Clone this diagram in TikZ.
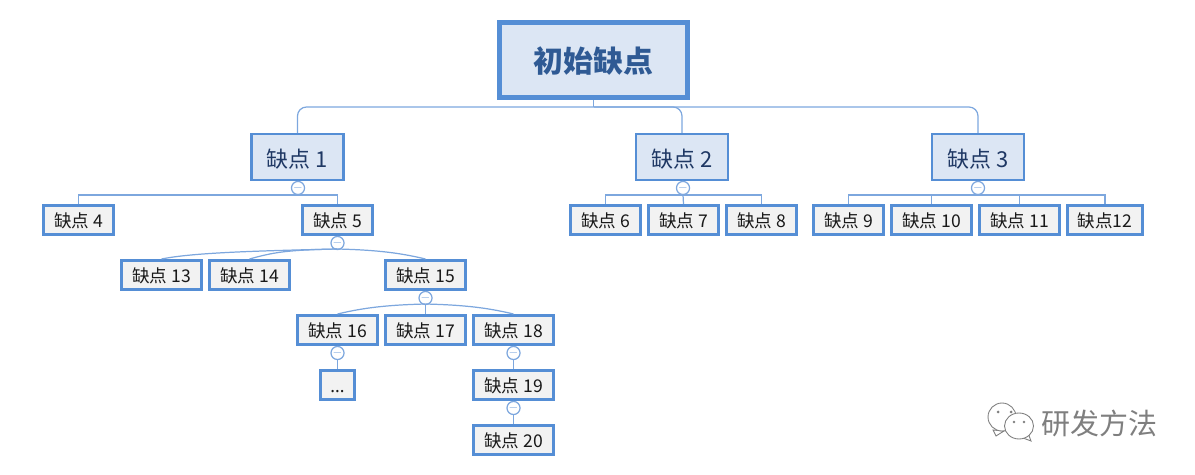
\documentclass[tikz,border=0pt]{standalone}
\usepackage{fontspec}
\setmainfont{Noto Sans CJK SC}
\newfontfamily\dotsfont{Noto Sans}
\usetikzlibrary{positioning}

\definecolor{boxline}{HTML}{558ED5}
\definecolor{linkline}{HTML}{7DA7DE}
\definecolor{headfill}{HTML}{DCE6F4}
\definecolor{leaffill}{HTML}{F2F2F2}
\definecolor{headtext}{HTML}{2F5A94}
\definecolor{topictext}{HTML}{1F3864}
\definecolor{markgray}{HTML}{7F7F7F}

\begin{document}
\begin{tikzpicture}[
  x=0.02cm, y=-0.02cm,
  root/.style={draw=boxline, line width=2.8pt, fill=headfill, text=headtext,
    font=\fontsize{17}{20}\selectfont\bfseries, minimum width=3.76cm, minimum height=1.5cm, inner sep=0pt,
    text height=16pt, text depth=2pt},
  topic/.style={draw=boxline, line width=1.2pt, fill=headfill, text=topictext,
    font=\fontsize{12.5}{15}\selectfont, minimum width=1.84cm, minimum height=0.92cm, inner sep=0pt,
    text height=13.3pt, text depth=1.5pt},
  leaf/.style={draw=boxline, line width=1.7pt, fill=leaffill, text=black!90,
    font=\fontsize{10}{12}\selectfont, minimum width=#1, minimum height=0.58cm, inner sep=0pt,
    text height=10pt, text depth=1.2pt},
  fold/.style={draw=linkline, circle, line width=0.7pt, fill=white, text=linkline,
    minimum size=0.2cm, inner sep=0pt, font=\fontsize{6}{6}\selectfont},
  link/.style={draw=linkline, line width=0.7pt},
  bubble/.style={draw=markgray, line width=0.5pt, fill=white}
]
  % root and first level
  \node[root] (root) at (593.5,60) {初始缺点};
  \node[topic] (d1) at (297.5,157) {缺点 1};
  \node[topic] (d2) at (682,157) {缺点 2};
  \node[topic] (d3) at (978,157) {缺点 3};

  % second level
  \node[leaf=1.4cm] (d4) at (78.5,220) {缺点 4};
  \node[leaf=1.4cm] (d5) at (337.5,220) {缺点 5};
  \node[leaf=1.4cm] (d6) at (605.5,220) {缺点 6};
  \node[leaf=1.4cm] (d7) at (683.5,220) {缺点 7};
  \node[leaf=1.4cm] (d8) at (761.5,220) {缺点 8};
  \node[leaf=1.4cm] (d9) at (848.5,220) {缺点 9};
  \node[leaf=1.6cm] (d10) at (931.5,220) {缺点 10};
  \node[leaf=1.6cm] (d11) at (1019.5,220) {缺点 11};
  \node[leaf=1.5cm] (d12) at (1105,220) {缺点12};

  % under 5 and 15
  \node[leaf=1.6cm] (d13) at (161.5,275) {缺点 13};
  \node[leaf=1.6cm] (d14) at (249.5,275) {缺点 14};
  \node[leaf=1.6cm] (d15) at (425.5,275) {缺点 15};
  \node[leaf=1.6cm] (d16) at (337.5,330) {缺点 16};
  \node[leaf=1.6cm] (d17) at (425.5,330) {缺点 17};
  \node[leaf=1.6cm] (d18) at (513.5,330) {缺点 18};
  \node[leaf=0.68cm] (dots) at (337.5,385) {\dotsfont ...};
  \node[leaf=1.6cm] (d19) at (513.5,385) {缺点 19};
  \node[leaf=1.6cm] (d20) at (513.5,440) {缺点 20};

  % collapse marks
  \node[fold] (f1) at (298,188) {$-$};
  \node[fold] (f2) at (683,188) {$-$};
  \node[fold] (f3) at (978,188) {$-$};
  \node[fold] (f5) at (337.5,243) {$-$};
  \node[fold] (f15) at (425.5,298) {$-$};
  \node[fold] (f16) at (337.5,353) {$-$};
  \node[fold] (f18) at (513.5,353) {$-$};
  \node[fold] (f19) at (513.5,408) {$-$};

  % junctions
  \coordinate (j0) at (593.5,107);
  \coordinate (j1) at (298,195);
  \coordinate (j2) at (683,195);
  \coordinate (j3) at (978,195);
  \coordinate (j5) at (337.5,249);
  \coordinate (j15) at (425.5,304);

  % root links
  \draw[link] (root) -- (j0);
  \draw[link, rounded corners=0.18cm] (j0) -| (d1.north);
  \draw[link, rounded corners=0.18cm] (j0) -| (d2.north);
  \draw[link, rounded corners=0.18cm] (j0) -| (d3.north);

  % square links
  \draw[link] (d1) -- (f1);
  \draw[link] (f1) -- (j1);
  \draw[link] (j1) -| (d4.north);
  \draw[link] (j1) -| (d5.north);
  \draw[link] (d2) -- (f2);
  \draw[link] (f2) -- (j2);
  \draw[link] (j2) -| (d6.north);
  \draw[link] (j2) -- (d7.north);
  \draw[link] (j2) -| (d8.north);
  \draw[link] (d3) -- (f3);
  \draw[link] (f3) -- (j3);
  \draw[link] (j3) -| (d9.north);
  \draw[link] (j3) -| (d10.north);
  \draw[link] (j3) -| (d11.north);
  \draw[link] (j3) -| (d12.north);

  % curved links
  \draw[link] (d5) -- (f5);
  \draw[link] (f5) -- (j5);
  \draw[link] (j5) .. controls +(-90,2) and +(30,-6) .. (d13.north);
  \draw[link] (j5) .. controls +(-50,1) and +(25,-7) .. (d14.north);
  \draw[link] (j5) .. controls +(40,1) and +(-25,-6) .. (d15.north);
  \draw[link] (d15) -- (f15);
  \draw[link] (f15) -- (j15);
  \draw[link] (j15) .. controls +(-40,1) and +(25,-6) .. (d16.north);
  \draw[link] (j15) -- (d17.north);
  \draw[link] (j15) .. controls +(40,1) and +(-25,-6) .. (d18.north);

  % chains
  \draw[link] (d16) -- (f16);
  \draw[link] (f16) -- (dots);
  \draw[link] (d18) -- (f18);
  \draw[link] (f18) -- (d19);
  \draw[link] (d19) -- (f19);
  \draw[link] (f19) -- (d20);

  % watermark
  \draw[bubble] (993,430) -- (996,436) -- (1004,431) -- cycle;
  \draw[bubble] (1002,417) ellipse (14 and 14);
  \draw[bubble] (1023,438) -- (1031,441) -- (1028,433) -- cycle;
  \draw[bubble] (1019,426) ellipse (14.5 and 13);
  \fill[markgray] (998,412) circle (1.5) (1011,412) circle (1.5)
    (1014,422) circle (1.3) (1024,422) circle (1.3);
  \node[text=markgray, font=\fontsize{16.5}{20}\selectfont] (mark) at (1099,423) {研发方法};

  \useasboundingbox (0,0) rectangle (1195,475);
\end{tikzpicture}
\end{document}
